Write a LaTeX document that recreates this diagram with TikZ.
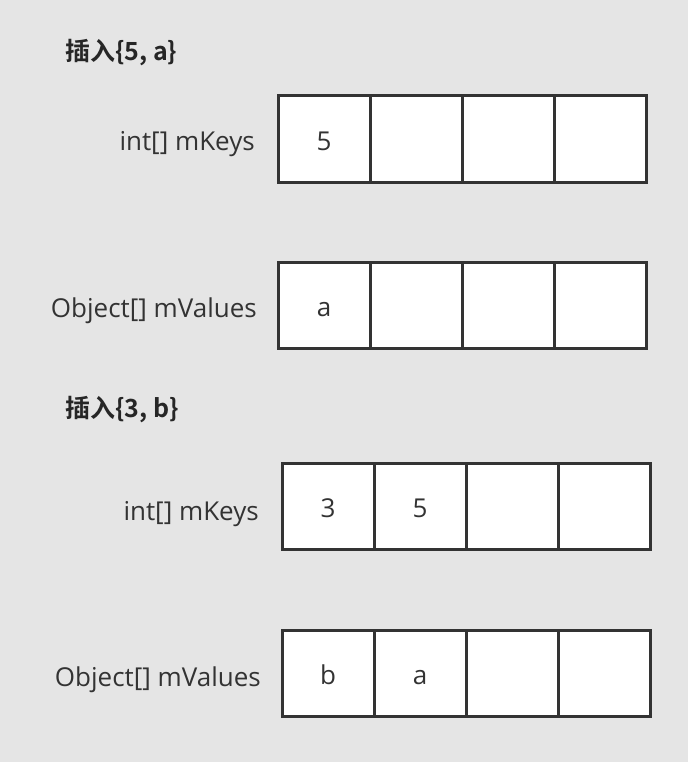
\documentclass[tikz,border=0pt]{standalone}
\usepackage{fontspec}
\setmainfont{Open Sans}
\newfontfamily\cjkbold{Noto Sans CJK SC Bold}
\definecolor{bggray}{HTML}{E5E5E5}
\definecolor{inkgray}{HTML}{333333}
\begin{document}
\begin{tikzpicture}[
        x=1pt, y=-1pt,
        font=\fontsize{26}{31}\selectfont,
        text=inkgray
    ]
    \tikzset{
        mycell/.style = {rectangle, draw=inkgray, line width=3pt, fill=white,
                         minimum width=92pt, minimum height=86pt, inner sep=0pt,
                         text height=22pt, text depth=0pt},
        mylabel/.style = {anchor=east, inner sep=0pt, text height=22pt, text depth=0pt},
        myhead/.style = {anchor=west, inner sep=0pt, text height=22pt, text depth=0pt,
                         font=\cjkbold\fontsize{25}{30}\selectfont, text=black!85},
    }
        \path[fill=bggray] (0,0) rectangle (688,762);
        %
        \node[myhead] at (65,50) (h1) {插入\{5, a\}};
        \node[mylabel] at (255,140) (l1) {int[] mKeys};
        \node[mylabel] at (257,306) (l2) {Object[] mValues};
        %
        \node[mycell] at (324,139) (k1) {5};
        \node[mycell] at (416,139) (k2) {};
        \node[mycell] at (508,139) (k3) {};
        \node[mycell] at (600,139) (k4) {};
        %
        \node[mycell] at (324,305) (v1) {a};
        \node[mycell] at (416,305) (v2) {};
        \node[mycell] at (508,305) (v3) {};
        \node[mycell] at (600,305) (v4) {};
        %
        \node[myhead] at (65,406) (h2) {插入\{3, b\}};
        \node[mylabel] at (259,509) (m1) {int[] mKeys};
        \node[mylabel] at (261,675) (m2) {Object[] mValues};
        %
        \node[mycell] at (328,506) (kk1) {3};
        \node[mycell] at (420,506) (kk2) {5};
        \node[mycell] at (512,506) (kk3) {};
        \node[mycell] at (604,506) (kk4) {};
        %
        \node[mycell] at (328,673) (vv1) {b};
        \node[mycell] at (420,673) (vv2) {a};
        \node[mycell] at (512,673) (vv3) {};
        \node[mycell] at (604,673) (vv4) {};
    \end{tikzpicture}
\end{document}
